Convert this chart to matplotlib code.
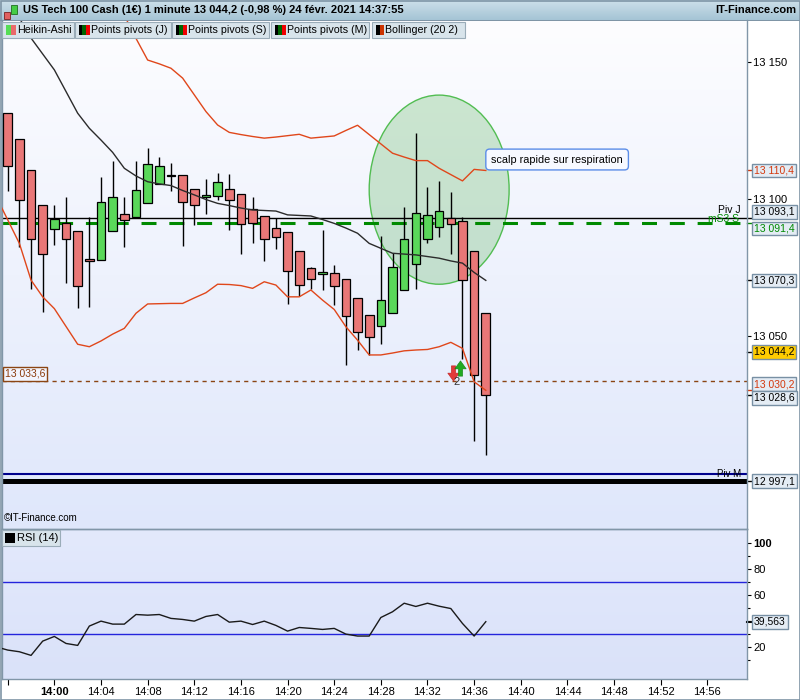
import numpy as np
import pandas as pd
import matplotlib
matplotlib.use("Agg")
import matplotlib.pyplot as plt
import matplotlib.dates as mdates
from matplotlib.colors import LinearSegmentedColormap
from matplotlib.patches import Rectangle, Ellipse
from matplotlib.transforms import Affine2D

plt.rcParams['font.family'] = ['Liberation Sans', 'DejaVu Sans']
NARROW = ['Liberation Sans Narrow', 'Liberation Sans', 'DejaVu Sans']

# ---------------- data ----------------
candle_times = pd.date_range("2021-02-24 13:56", "2021-02-24 14:37", freq="min")
ha_open = [13131.3, 13121.8, 13110.5, 13097.7, 13088.9, 13091.1, 13088.2, 13078.0, 13077.6, 13088.2,
           13094.4, 13093.3, 13098.4, 13105.4, 13108.4, 13108.6, 13103.5, 13100.6, 13101.0, 13103.5,
           13101.7, 13096.2, 13093.7, 13089.3, 13087.8, 13080.9, 13074.7, 13072.5, 13072.9, 13070.7,
           13063.8, 13057.6, 13053.5, 13058.3, 13066.7, 13076.2, 13085.3, 13089.7, 13093.0, 13091.9,
           13080.9, 13058.3]
ha_high = [13131.3, 13121.8, 13110.5, 13097.7, 13097.7, 13100.6, 13088.2, 13093.3, 13107.9, 13113.8,
           13100.6, 13113.8, 13118.5, 13115.2, 13113.0, 13108.6, 13103.5, 13107.2, 13109.4, 13109.0,
           13101.7, 13100.6, 13093.7, 13093.0, 13087.8, 13080.9, 13075.3, 13088.6, 13075.8, 13070.7,
           13063.8, 13057.6, 13086.6, 13080.2, 13097.0, 13124.0, 13104.3, 13106.6, 13102.4, 13093.3,
           13080.9, 13058.3]
ha_low = [13103.0, 13082.6, 13067.2, 13058.9, 13083.3, 13069.5, 13060.3, 13060.7, 13077.6, 13088.2,
          13082.4, 13093.3, 13098.4, 13105.4, 13103.0, 13083.0, 13090.6, 13094.6, 13099.5, 13088.8,
          13079.8, 13084.1, 13077.5, 13081.6, 13061.8, 13064.7, 13067.0, 13066.9, 13061.4, 13039.5,
          13045.0, 13043.0, 13047.0, 13058.3, 13066.7, 13067.0, 13084.1, 13086.2, 13080.0, 13041.7,
          13011.8, 13006.7]
ha_close = [13112.2, 13099.6, 13085.3, 13079.8, 13092.6, 13085.3, 13068.1, 13077.3, 13098.8, 13100.6,
            13092.2, 13103.2, 13112.7, 13111.9, 13108.4, 13098.8, 13097.7, 13101.4, 13106.1, 13099.5,
            13090.8, 13091.1, 13085.3, 13086.0, 13073.6, 13068.5, 13070.7, 13073.2, 13068.1, 13057.2,
            13051.4, 13049.5, 13063.0, 13075.1, 13085.3, 13094.8, 13094.1, 13095.5, 13090.8, 13070.3,
            13035.7, 13028.6]

line_times = pd.date_range("2021-02-24 13:55", "2021-02-24 14:37", freq="min")
nan = np.nan
bb_upper = [nan, nan, nan, nan, nan, nan, nan, nan, nan, nan,
            13175.0, 13167.0, 13158.6, 13150.7, 13149.3, 13147.7, 13144.1, 13138.0, 13131.9, 13127.0,
            13124.3, 13123.5, 13122.8, 13122.2, 13122.6, 13123.1, 13123.6, 13122.2, 13122.6, 13123.0,
            13125.0, 13126.9, 13123.5, 13120.1, 13116.7, 13115.3, 13114.0, 13114.0, 13111.2, 13108.9,
            13106.6, 13110.8, 13110.4]
bb_middle = [13178.0, 13172.0, 13166.0, 13158.7, 13152.9,
             13147.1, 13139.2, 13131.3, 13125.8, 13121.5, 13117.0, 13111.2, 13108.4, 13106.3, 13105.5,
             13104.9, 13103.1, 13101.5, 13099.8, 13098.4, 13097.6, 13096.7, 13096.0, 13095.8, 13095.6,
             13094.2, 13094.0, 13093.8, 13092.5, 13091.1, 13089.4, 13087.5, 13083.8, 13082.0, 13080.2,
             13079.9, 13079.6, 13079.0, 13078.4, 13077.4, 13076.6, 13073.2, 13070.3]
bb_lower = [13100.9, 13092.4, 13083.8, 13070.4, 13064.3,
            13060.0, 13053.5, 13047.0, 13046.1, 13048.2, 13050.7, 13052.8, 13058.3, 13061.7, 13061.8,
            13061.9, 13061.9, 13063.9, 13065.8, 13068.9, 13068.8, 13068.4, 13067.4, 13069.8, 13068.6,
            13064.3, 13064.3, 13066.8, 13063.1, 13059.7, 13053.4, 13048.5, 13043.1, 13043.1, 13043.8,
            13044.6, 13044.9, 13045.1, 13046.1, 13047.7, 13045.5, 13033.3, 13030.2]
rsi = [20.2, 17.7, 16.4, 13.6, 24.6,
       28.2, 22.8, 21.3, 36.2, 40.0, 37.7, 37.7, 45.1, 44.6, 45.1,
       42.1, 41.3, 40.0, 43.6, 45.1, 39.2, 40.0, 37.4, 40.0, 36.7,
       32.3, 35.1, 34.4, 33.6, 34.4, 30.0, 28.5, 28.5, 42.8, 47.2,
       53.8, 51.3, 53.8, 51.5, 49.7, 38.2, 28.5, 39.563]

last_price = 13044.2
piv_j = 13093.1
ms3_s = 13091.4
piv_m = 12997.1
blue_level = 12999.6
alert_level = 13033.6
rsi_levels = [30, 70]
tick_times = pd.date_range("2021-02-24 13:56", "2021-02-24 14:56", freq="4min")


def fr(v, nd=1):
    return f"{v:,.{nd}f}".replace(",", " ").replace(".", ",")


# ---------------- layout (pixel based) ----------------
W, H = 800, 700
fig = plt.figure(figsize=(W / 100, H / 100), dpi=100)
pix = Affine2D().scale(1 / W, -1 / H).translate(0, 1) + fig.transFigure


def rect_px(x0, y0, x1, y1):
    return [x0 / W, 1 - y1 / H, (x1 - x0) / W, (y1 - y0) / H]


def gradient_axes(r, top, bottom):
    g = fig.add_axes(r, zorder=-1)
    cmap = LinearSegmentedColormap.from_list("g", [bottom, top])
    g.imshow(np.linspace(0, 1, 256).reshape(-1, 1), origin="lower", cmap=cmap,
             aspect="auto", extent=[0, 1, 0, 1])
    g.axis("off")
    return g


main_r = rect_px(2, 20, 747, 529)
rsi_r = rect_px(2, 529, 747, 679)
gradient_axes(main_r, "#fdfdff", "#dfe7fb")
gradient_axes(rsi_r, "#e3e9fc", "#dae2f9")
gradient_axes(rect_px(0, 0, 800, 20), "#cde0ea", "#a5c4d5")

ax = fig.add_axes(main_r)
ax2 = fig.add_axes(rsi_r, sharex=ax)
for a in (ax, ax2):
    a.patch.set_alpha(0)
    for s in a.spines.values():
        s.set_color("#8196a8")
        s.set_linewidth(1)
ax.spines["top"].set_visible(False)

xc = mdates.date2num(candle_times)
xl = mdates.date2num(line_times)
t0 = mdates.date2num(pd.Timestamp("2021-02-24 14:00"))
minute = 1 / 1440

# ---------------- main panel ----------------
o = np.array(ha_open); c = np.array(ha_close)
colors = np.where(c > o, "#5ad85a", np.where(c < o, "#e97777", "black"))
ax.vlines(xc, ha_low, ha_high, color="black", lw=1.0, zorder=3)
ax.bar(xc, np.maximum(np.abs(c - o), 0.3), bottom=np.minimum(o, c), width=0.74 * minute,
       color=colors, edgecolor="black", linewidth=0.9, zorder=4)

ax.plot(xl, bb_upper, color="#e0471b", lw=1.0, zorder=5)
ax.plot(xl, bb_lower, color="#e0471b", lw=1.0, zorder=5)
ax.plot(xl, bb_middle, color="#2b2b2b", lw=1.0, zorder=5)

ax.axhline(piv_j, color="black", lw=1.0, zorder=2)
ax.axhline(ms3_s, color="#008a00", lw=2.2, dashes=(4.9, 4.2), zorder=2)
ax.axhline(blue_level, color="#00008c", lw=1.5, zorder=2)
ax.axhline(piv_m, color="black", lw=3.6, zorder=2)
ax.axhline(alert_level, color="#8b4513", lw=1.0, dashes=(3, 3), zorder=2)

yt = ax.get_yaxis_transform()
ax.annotate("Piv J", xy=(0.992, piv_j), xycoords=yt, ha="right", va="bottom",
            fontsize=7.5, family=NARROW, xytext=(0, 3), textcoords="offset pixels")
ax.annotate("mS3 S", xy=(0.992, ms3_s), xycoords=yt, ha="right", va="bottom",
            fontsize=7.5, family=NARROW, color="#008a00", xytext=(-2, -1), textcoords="offset pixels")
ax.annotate("Piv M", xy=(0.992, piv_m), xycoords=yt, ha="right", va="bottom",
            fontsize=7, family=NARROW, xytext=(0, 2), textcoords="offset pixels")
ax.annotate(fr(alert_level), xy=(0.0, alert_level), xycoords=yt, ha="left", va="bottom",
            fontsize=7.5, color="#8b3a0a", xytext=(3, 2), textcoords="offset pixels",
            bbox=dict(boxstyle="square,pad=0.2", fc="#f2f5fe", ec="#8b4513", lw=1))

# annotation ellipse and note
ell_t = mdates.date2num(pd.Timestamp("2021-02-24 14:33"))
ax.add_patch(Ellipse((ell_t, 13103.4), 12.0 * minute, 69.0, fc="#44aa44", alpha=0.25,
                     ec="none", zorder=1.5))
ax.add_patch(Ellipse((ell_t, 13103.4), 12.0 * minute, 69.0, fc="none", ec="#52bd52",
                     lw=1.0, zorder=1.6))
ax.text(mdates.date2num(pd.Timestamp("2021-02-24 14:37:28")), 13114.4, "scalp rapide sur respiration",
        fontsize=7.8, va="center", ha="left", zorder=6,
        bbox=dict(boxstyle="round,pad=0.5,rounding_size=0.35", fc="#f7f9ff", ec="#5b8de8", lw=1))

# signal arrows (custom arrow markers)
arrow_down = [(-0.28, 1), (0.28, 1), (0.28, 0.05), (0.75, 0.05), (0, -1), (-0.75, 0.05), (-0.28, 0.05), (-0.28, 1)]
arrow_up = [(x, -y) for x, y in arrow_down]
sig = mdates.date2num(pd.Timestamp("2021-02-24 14:34:12"))
ax.plot(sig, 13036.6, marker=arrow_down, ms=11, color="#e23a3a", mec="#c02020", mew=0.4, zorder=6)
ax.plot(sig + 0.58 * minute, 13038.2, marker=arrow_up, ms=11, color="#22aa22", mec="#158015", mew=0.4, zorder=6)
ax.text(sig + 0.25 * minute, 13033.3, "2", fontsize=8, ha="center", va="center", color="#333333", zorder=6)

ax.text(0.002, 0.012, "©IT-Finance.com", transform=ax.transAxes, fontsize=7, family=NARROW,
        va="bottom", ha="left")

ax.set_ylim(12979.6, 13165.3)
ax.yaxis.tick_right()
ax.set_yticks([13050, 13100, 13150])
ax.set_yticklabels([fr(v, 0) for v in [13050, 13100, 13150]])
ax.tick_params(axis="y", length=3, pad=1.5, labelsize=8, width=0.8)
ax.tick_params(axis="x", bottom=False, labelbottom=False)

# boxed value labels on the price scale: value, text colour, fill, shift in px
price_labels = [
    (bb_upper[-1], "#d4380d", "#e4ecf4", 0),
    (piv_j, "black", "#e4ecf4", 6),
    (ms3_s, "#008a00", "#e4ecf4", -6),
    (bb_middle[-1], "black", "#e4ecf4", 0),
    (last_price, "black", "#ffcc00", 0),
    (bb_lower[-1], "#d4380d", "#e4ecf4", 6),
    (ha_close[-1], "black", "#e4ecf4", -3),
    (piv_m, "black", "#e4ecf4", 0),
]
for v, tc, fc, dy in price_labels:
    ax.plot([1.0, 1.0067], [v, v], transform=yt, color=tc, lw=1, clip_on=False)
    ax.annotate(fr(v), xy=(1.0, v), xycoords=yt, xytext=(7, dy), textcoords="offset pixels",
                ha="left", va="center", fontsize=7.5, color=tc, annotation_clip=False,
                bbox=dict(boxstyle="square,pad=0.18", fc=fc, ec="#7890a4", lw=1))

# ---------------- RSI panel ----------------
ax2.plot(xl, rsi, color="#1a1a1a", lw=1.0, zorder=3)
for lv in rsi_levels:
    ax2.axhline(lv, color="#2424dc", lw=1.0, zorder=2)
ax2.set_ylim(-4.6, 111)
ax2.yaxis.tick_right()
ax2.set_yticks([20, 40, 60, 80, 100])
ax2.set_yticklabels(["20", "", "60", "80", "100"])
ax2.get_yticklabels()[-1].set_fontweight("bold")
ax2.set_yticks([10, 30, 50, 70, 90], minor=True)
ax2.tick_params(axis="y", which="major", length=3, pad=1.5, labelsize=8, width=0.8)
ax2.tick_params(axis="y", which="minor", length=2, width=0.8)
ax2.annotate(fr(rsi[-1], 3), xy=(1.0, rsi[-1]), xycoords=ax2.get_yaxis_transform(),
             xytext=(7, 0), textcoords="offset pixels", ha="left", va="center", fontsize=7.5,
             annotation_clip=False, bbox=dict(boxstyle="square,pad=0.18", fc="#e4ecf4", ec="#7890a4", lw=1))
ax2.plot([1.0, 1.0067], [rsi[-1], rsi[-1]], transform=ax2.get_yaxis_transform(), color="black",
         lw=1.5, clip_on=False)

ax2.set_xticks(mdates.date2num(tick_times))
ax2.set_xticklabels(["" if t.hour == 13 else t.strftime("%H:%M") for t in tick_times])
ax2.tick_params(axis="x", length=4, pad=2, labelsize=8, width=0.8)
for lab in ax2.get_xticklabels():
    if lab.get_text() == "14:00":
        lab.set_fontweight("bold")
ax.set_xlim(t0 - 4.49 * minute, t0 + 59.4 * minute)

# ---------------- header, legend strip, frame ----------------
fig.text(23, 10, "US Tech 100 Cash (1€) 1 minute 13 044,2 (-0,98 %) 24 févr. 2021 14:37:55",
         transform=pix, fontsize=8, fontweight="bold", va="center", ha="left")
fig.text(796, 10, "IT-Finance.com", transform=pix, fontsize=8, fontweight="bold", va="center", ha="right")
# small candle icon
fig.add_artist(Rectangle((6.6, 9), 0.8, 12, transform=pix, fc="#333333", ec="none"))
fig.add_artist(Rectangle((4, 12), 6, 7, transform=pix, fc="#e06060", ec="#7a2020", lw=0.6))
fig.add_artist(Rectangle((13.6, 2), 0.8, 15, transform=pix, fc="#333333", ec="none"))
fig.add_artist(Rectangle((11, 5), 6, 9, transform=pix, fc="#44cc44", ec="#1e6e1e", lw=0.6))
fig.add_artist(Rectangle((0, 20), 800, 0.8, transform=pix, fc="#7f95a6", ec="none"))

# legend strip: name, swatch colours, box x0, box x1, swatch stripe width
legend_items = [
    ("Heikin-Ashi", ["#55dd55", "#e96a6a"], 2, 74, 5),
    ("Points pivots (J)", ["black", "#006400", "#ee0000"], 75, 171, 3.7),
    ("Points pivots (S)", ["black", "#006400", "#ee0000"], 172, 269, 3.7),
    ("Points pivots (M)", ["black", "#006400", "#ee0000"], 271, 369, 3.7),
    ("Bollinger (20 2)", ["black", "#cc3300"], 372, 465, 4),
]
for name, sw, x0, x1, sw_w in legend_items:
    fig.add_artist(Rectangle((x0, 21.5), x1 - x0, 16, transform=pix, fc="#d8e4eb", ec="#9aacb8", lw=0.8))
    for k, col in enumerate(sw):
        fig.add_artist(Rectangle((x0 + 3.5 + k * sw_w, 25), sw_w, 9.5, transform=pix, fc=col, ec="none"))
    fig.text(x0 + 3.5 + sw_w * len(sw) + 1.5, 29.8, name, transform=pix, fontsize=7.7, va="center", ha="left")

fig.add_artist(Rectangle((2, 529.5), 58, 16.5, transform=pix, fc="#d8e4eb", ec="#9aacb8", lw=0.8))
fig.add_artist(Rectangle((5, 533), 10, 10, transform=pix, fc="black", ec="none"))
fig.text(17, 538, "RSI (14)", transform=pix, fontsize=8, va="center", ha="left")

fig.add_artist(Rectangle((0.5, 0.5), 799, 699, transform=pix, fill=False, ec="#7f95a6", lw=1.2))

fig.savefig("out.png", dpi=100)
